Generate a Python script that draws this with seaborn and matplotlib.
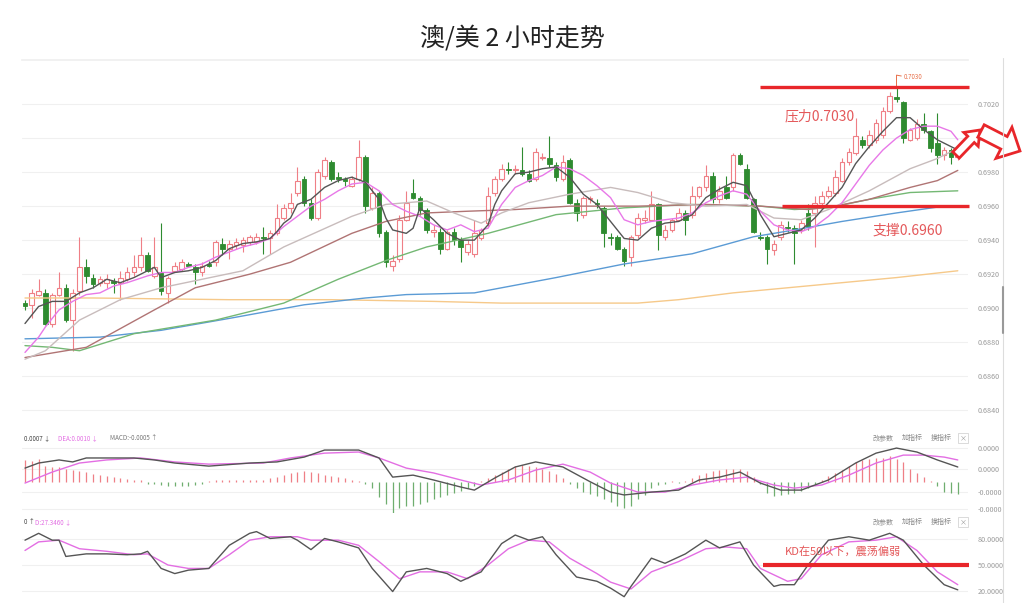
import numpy as np
import matplotlib
matplotlib.use("Agg")
import matplotlib.pyplot as plt
import matplotlib.patches as mpatches
import matplotlib.transforms as mtransforms
from matplotlib.lines import Line2D
import seaborn as sns

# ==========================
# Data (AUD/USD, 2h candles)
# ==========================
opens = [0.6903, 0.6902, 0.6908, 0.6909, 0.6891, 0.6908, 0.6912, 0.6893, 0.6910, 0.6924,
         0.6918, 0.6915, 0.6915, 0.6916, 0.6915, 0.6917, 0.6921, 0.6924, 0.6931, 0.6919,
         0.6921, 0.6909, 0.6922, 0.6923, 0.6926, 0.6924, 0.6921, 0.6926, 0.6927, 0.6938,
         0.6935, 0.6937, 0.6937, 0.6939, 0.6939, 0.6942, 0.6941, 0.6944, 0.6953, 0.6959,
         0.6968, 0.6976, 0.6962, 0.6953, 0.6978, 0.6986, 0.6977, 0.6976, 0.6972, 0.6976,
         0.6989, 0.6959, 0.6968, 0.6945, 0.6925, 0.6929, 0.6952, 0.6968, 0.6965, 0.6958,
         0.6945, 0.6945, 0.6935, 0.6945, 0.6940, 0.6933, 0.6932, 0.6941, 0.6950, 0.6968,
         0.6976, 0.6982, 0.6981, 0.6981, 0.6979, 0.6976, 0.6988, 0.6988, 0.6984, 0.6976,
         0.6987, 0.6962, 0.6955, 0.6964, 0.6962, 0.6959, 0.6942, 0.6942, 0.6935, 0.6930,
         0.6943, 0.6952, 0.6952, 0.6961, 0.6942, 0.6946, 0.6952, 0.6956, 0.6955, 0.6966,
         0.6971, 0.6978, 0.6964, 0.6971, 0.6971, 0.6990, 0.6982, 0.6964, 0.6942, 0.6942,
         0.6934, 0.6942, 0.6948, 0.6947, 0.6946, 0.6956, 0.6956, 0.6962, 0.6966, 0.6968,
         0.6975, 0.6986, 0.6991, 0.6999, 0.6996, 0.6999, 0.7002, 0.7016, 0.7024, 0.7021,
         0.6999, 0.7000, 0.7008, 0.7004, 0.6997, 0.6990, 0.6993, 0.6989]
highs = [0.6905, 0.6911, 0.6917, 0.6911, 0.6909, 0.6921, 0.6914, 0.6911, 0.6942, 0.6929,
         0.6920, 0.6919, 0.6920, 0.6918, 0.6922, 0.6924, 0.6931, 0.6942, 0.6933, 0.6942,
         0.6950, 0.6919, 0.6927, 0.6929, 0.6927, 0.6926, 0.6927, 0.6928, 0.6940, 0.6941,
         0.6940, 0.6941, 0.6942, 0.6943, 0.6944, 0.6948, 0.6946, 0.6961, 0.6961, 0.6968,
         0.6983, 0.6978, 0.6964, 0.6982, 0.6989, 0.6987, 0.6980, 0.6977, 0.6978, 0.6999,
         0.6990, 0.6971, 0.6969, 0.6946, 0.6931, 0.6955, 0.6969, 0.6976, 0.6966, 0.6959,
         0.6949, 0.6947, 0.6946, 0.6947, 0.6942, 0.6940, 0.6952, 0.6947, 0.6971, 0.6978,
         0.6985, 0.6986, 0.6984, 0.6995, 0.6981, 0.6994, 0.6991, 0.7001, 0.6986, 0.6990,
         0.6988, 0.6964, 0.6966, 0.6966, 0.6964, 0.6960, 0.6944, 0.6943, 0.6936, 0.6943,
         0.6956, 0.6958, 0.6969, 0.6962, 0.6949, 0.6953, 0.6959, 0.6958, 0.6972, 0.6972,
         0.6984, 0.6980, 0.6972, 0.6978, 0.6991, 0.6991, 0.6985, 0.6965, 0.6945, 0.6943,
         0.6940, 0.6951, 0.6951, 0.6949, 0.6952, 0.6961, 0.6966, 0.6969, 0.6972, 0.6981,
         0.6988, 0.6994, 0.7012, 0.7001, 0.7005, 0.7011, 0.7018, 0.7027, 0.7030, 0.7022,
         0.7006, 0.7011, 0.7015, 0.7005, 0.7015, 0.6995, 0.6994, 0.6993]
lows = [0.6899, 0.6894, 0.6907, 0.6890, 0.6889, 0.6907, 0.6892, 0.6875, 0.6908, 0.6915,
        0.6912, 0.6913, 0.6912, 0.6909, 0.6905, 0.6916, 0.6919, 0.6922, 0.6921, 0.6918,
        0.6908, 0.6903, 0.6921, 0.6922, 0.6924, 0.6914, 0.6919, 0.6924, 0.6925, 0.6931,
        0.6929, 0.6935, 0.6933, 0.6937, 0.6938, 0.6932, 0.6932, 0.6943, 0.6952, 0.6956,
        0.6966, 0.6960, 0.6952, 0.6952, 0.6976, 0.6975, 0.6974, 0.6972, 0.6971, 0.6975,
        0.6956, 0.6958, 0.6942, 0.6924, 0.6922, 0.6927, 0.6951, 0.6964, 0.6955, 0.6944,
        0.6942, 0.6932, 0.6934, 0.6937, 0.6927, 0.6931, 0.6930, 0.6940, 0.6948, 0.6966,
        0.6975, 0.6979, 0.6979, 0.6978, 0.6974, 0.6975, 0.6987, 0.6983, 0.6975, 0.6975,
        0.6961, 0.6951, 0.6953, 0.6962, 0.6959, 0.6936, 0.6937, 0.6934, 0.6925, 0.6925,
        0.6941, 0.6950, 0.6951, 0.6934, 0.6940, 0.6945, 0.6951, 0.6943, 0.6953, 0.6965,
        0.6969, 0.6962, 0.6962, 0.6964, 0.6969, 0.6984, 0.6964, 0.6944, 0.6940, 0.6926,
        0.6931, 0.6940, 0.6945, 0.6926, 0.6944, 0.6946, 0.6936, 0.6960, 0.6965, 0.6966,
        0.6974, 0.6984, 0.6990, 0.6994, 0.6994, 0.6997, 0.7000, 0.7015, 0.7021, 0.6997,
        0.6998, 0.6999, 0.7003, 0.6992, 0.6985, 0.6987, 0.6985, 0.6987]
closes = [0.6901, 0.6909, 0.6910, 0.6891, 0.6908, 0.6912, 0.6893, 0.6909, 0.6924, 0.6919,
          0.6914, 0.6917, 0.6917, 0.6915, 0.6918, 0.6921, 0.6924, 0.6931, 0.6922, 0.6924,
          0.6910, 0.6918, 0.6925, 0.6927, 0.6925, 0.6921, 0.6925, 0.6925, 0.6939, 0.6935,
          0.6938, 0.6939, 0.6940, 0.6942, 0.6942, 0.6941, 0.6944, 0.6953, 0.6959, 0.6962,
          0.6975, 0.6962, 0.6953, 0.6980, 0.6987, 0.6976, 0.6976, 0.6975, 0.6976, 0.6989,
          0.6960, 0.6968, 0.6944, 0.6927, 0.6928, 0.6952, 0.6962, 0.6965, 0.6958, 0.6946,
          0.6946, 0.6935, 0.6945, 0.6940, 0.6936, 0.6938, 0.6944, 0.6946, 0.6966, 0.6976,
          0.6982, 0.6981, 0.6982, 0.6979, 0.6975, 0.6992, 0.6989, 0.6985, 0.6977, 0.6986,
          0.6962, 0.6956, 0.6965, 0.6965, 0.6961, 0.6944, 0.6941, 0.6935, 0.6928, 0.6942,
          0.6953, 0.6953, 0.6961, 0.6943, 0.6946, 0.6952, 0.6956, 0.6952, 0.6966, 0.6971,
          0.6978, 0.6964, 0.6969, 0.6965, 0.6990, 0.6985, 0.6965, 0.6945, 0.6941, 0.6935,
          0.6938, 0.6949, 0.6947, 0.6944, 0.6950, 0.6948, 0.6962, 0.6966, 0.6969, 0.6977,
          0.6986, 0.6992, 0.7001, 0.6996, 0.7002, 0.7009, 0.7016, 0.7025, 0.7023, 0.7000,
          0.7005, 0.7008, 0.7005, 0.6994, 0.6990, 0.6993, 0.6989, 0.6991]

# moving averages (sampled at candle index)
ma5_idx = [0, 2, 4, 6, 8, 10, 12, 14, 16, 18, 19, 20, 22, 24, 26, 28, 30, 32, 34, 36, 37, 38, 39, 40,
           42, 44, 46, 48, 50, 52, 53, 54, 56, 57, 58, 60, 62, 64, 66, 68, 69, 70, 72, 74, 76, 78,
           80, 82, 84, 86, 88, 90, 92, 94, 96, 98, 100, 102, 104, 106, 107, 108, 110, 112, 114,
           116, 118, 120, 122, 124, 126, 128, 130, 132, 134, 136, 137]
ma5 = [0.6891, 0.6901, 0.6904, 0.6904, 0.6909, 0.6912, 0.6917, 0.6915, 0.6918, 0.6922, 0.6924,
       0.6918, 0.6921, 0.6922, 0.6924, 0.6928, 0.6935, 0.6938, 0.6939, 0.6941, 0.6945, 0.6950,
       0.6953, 0.6961, 0.6964, 0.6971, 0.6975, 0.6977, 0.6974, 0.6964, 0.6953, 0.6946, 0.6944,
       0.6947, 0.6959, 0.6952, 0.6944, 0.6940, 0.6940, 0.6949, 0.6961, 0.6969, 0.6979, 0.6980,
       0.6982, 0.6983, 0.6977, 0.6967, 0.6961, 0.6951, 0.6941, 0.6940, 0.6947, 0.6950, 0.6951,
       0.6955, 0.6965, 0.6970, 0.6974, 0.6972, 0.6964, 0.6955, 0.6942, 0.6944, 0.6946, 0.6953,
       0.6962, 0.6971, 0.6985, 0.6995, 0.7004, 0.7012, 0.7012, 0.7005, 0.6999, 0.6995, 0.6993]
ma10_idx = [0, 2, 3, 5, 7, 9, 11, 13, 15, 18, 20, 22, 24, 26, 28, 30, 32, 34, 36, 38, 40, 42, 44,
            46, 48, 50, 52, 54, 56, 58, 60, 62, 64, 66, 68, 70, 72, 74, 76, 78, 80, 82, 84, 86, 88,
            90, 92, 94, 96, 98, 100, 102, 104, 106, 108, 110, 112, 114, 116, 118, 120, 122, 124,
            126, 128, 130, 132, 134, 136, 137]
ma10 = [0.6874, 0.6883, 0.6889, 0.6899, 0.6904, 0.6908, 0.6909, 0.6913, 0.6915, 0.6919, 0.6921,
        0.6921, 0.6924, 0.6926, 0.6930, 0.6933, 0.6936, 0.6938, 0.6941, 0.6948, 0.6954, 0.6960,
        0.6964, 0.6969, 0.6973, 0.6974, 0.6969, 0.6961, 0.6957, 0.6954, 0.6949, 0.6946, 0.6949,
        0.6945, 0.6947, 0.6961, 0.6971, 0.6975, 0.6978, 0.6983, 0.6982, 0.6978, 0.6972, 0.6965,
        0.6952, 0.6949, 0.6951, 0.6952, 0.6953, 0.6956, 0.6962, 0.6966, 0.6969, 0.6967, 0.6957,
        0.6949, 0.6946, 0.6945, 0.6948, 0.6954, 0.6962, 0.6973, 0.6984, 0.6993, 0.7000, 0.7005,
        0.7007, 0.7007, 0.7004, 0.6999]
ma20_idx = [0, 3, 8, 14, 20, 26, 32, 38, 48, 53, 59, 63, 67, 70, 74, 80, 86, 90, 95, 100, 106,
            110, 114, 118, 124, 130, 134, 137]
ma20 = [0.6870, 0.6875, 0.6893, 0.6905, 0.6912, 0.6917, 0.6922, 0.6936, 0.6954, 0.6961, 0.6963,
        0.6956, 0.6950, 0.6956, 0.6962, 0.6967, 0.6971, 0.6968, 0.6962, 0.6960, 0.6961, 0.6953,
        0.6952, 0.6958, 0.6969, 0.6982, 0.6988, 0.6994]
ma30_idx = [0, 9, 19, 25, 33, 39, 48, 53, 59, 65, 72, 80, 90, 100, 108, 115, 119, 124, 130, 134, 137]
ma30 = [0.6871, 0.6877, 0.6899, 0.6912, 0.6920, 0.6927, 0.6944, 0.6951, 0.6956, 0.6957, 0.6958,
        0.6960, 0.6960, 0.6961, 0.6960, 0.6958, 0.6960, 0.6964, 0.6971, 0.6975, 0.6981]
ma60_idx = [0, 4, 8, 16, 28, 38, 46, 53, 59, 68, 78, 88, 98, 108, 113, 118, 124, 130, 137]
ma60 = [0.6878, 0.6877, 0.6875, 0.6885, 0.6893, 0.6903, 0.6917, 0.6928, 0.6936, 0.6944, 0.6955,
        0.6959, 0.6961, 0.6960, 0.6958, 0.6959, 0.6964, 0.6968, 0.6969]
ma120_idx = [0, 11, 20, 30, 41, 50, 56, 66, 78, 88, 98, 107, 113, 120, 128, 135]
ma120 = [0.6882, 0.6883, 0.6887, 0.6894, 0.6902, 0.6906, 0.6908, 0.6909, 0.6918, 0.6926, 0.6932,
         0.6942, 0.6946, 0.6951, 0.6956, 0.6960]
ma240_idx = [0, 10, 30, 45, 60, 70, 90, 96, 104, 112, 120, 128, 137]
ma240 = [0.6906, 0.6906, 0.6905, 0.6905, 0.6904, 0.6903, 0.6903, 0.6905, 0.6909, 0.6912, 0.6915,
         0.6918, 0.6922]

price_ticks = [0.7020, 0.7000, 0.6980, 0.6960, 0.6940, 0.6920, 0.6900, 0.6880, 0.6860, 0.6840]
price_labels = ["0.7020", "0.7000", "0.6980", "0.6960", "0.6940", "0.6920", "0.6900",
                "0.6880", "0.6860", "0.6840"]
resistance = 0.7030
support = 0.6960
top_price = 0.7030

# MACD (units of 0.0001)
dif_idx = [0, 2, 5, 7, 9, 16, 19, 22, 27, 33, 37, 41, 44, 49, 52, 54, 57, 60, 64, 66, 69, 72, 75,
           79, 83, 86, 88, 92, 96, 99, 102, 105, 108, 111, 114, 118, 122, 125, 128, 131, 134, 137]
dif = [6.2, 8.5, 9.9, 9.0, 10.8, 10.8, 9.9, 8.5, 7.1, 8.5, 9.0, 11.2, 14.4, 14.4, 10.8, 2.1, 3.0,
       0.8, -2.4, -3.8, 1.7, 6.7, 9.0, 6.7, 0.0, -4.7, -6.0, -4.7, -3.8, 0.8, 2.1, 4.4, -0.6, -3.8,
       -3.8, 0.8, 8.5, 13.0, 15.3, 13.5, 9.9, 6.7]
dea_idx = [0, 4, 8, 12, 17, 22, 27, 35, 39, 44, 49, 52, 56, 60, 64, 67, 71, 75, 79, 83, 86, 90, 94,
           98, 102, 106, 110, 113, 117, 121, 125, 129, 132, 135, 137]
dea = [-0.6, 4.4, 8.5, 9.9, 10.8, 9.0, 8.0, 8.5, 10.8, 13.0, 13.5, 10.8, 6.2, 4.0, 0.8, -1.5, 0.8,
       5.3, 8.0, 4.4, -0.6, -4.7, -4.7, -1.5, 0.8, 2.1, -1.5, -2.9, -1.5, 3.0, 8.5, 12.1, 12.1,
       11.2, 9.9]
macd_hist = [10, 9.5, 10.5, 7, 6.5, 6.8, 6, 5.5, 5, 4.5, 3.5, 3, 2.5, 2, 1.5, 1.2, 1, 0.8,
             -0.8, -1, -1.5, -1.8, -2, -2, -1.8, -1.5, -1,
             0.5, 0.8, 0.8, 1, 1, 0.8, 0.6, 0.8, 1,
             1.5, 2, 3, 4, 4.5, 5, 4.5, 4, 3,
             2.5, 2, 1.5, 1, 0.5,
             -1, -3, -7, -10, -14.5, -12, -11, -11, -10, -9, -8, -7, -6, -5, -4, -3, -2,
             0.5, 1.5, 3, 4.5, 6, 7, 7.5, 7, 6.5, 6, 5, 3.5, 1.5,
             -1, -3, -4.5, -5.5, -6.5, -8, -9, -11, -12, -11, -8, -6, -3, -1.5, -1,
             0.5, -0.5, 0.5, 1.5, 3, 4, 5, 5.5, 6, 6, 6, 5, 2,
             -1, -5, -6.5, -6, -5.5, -5, -4, -3, -1,
             1, 2.5, 4, 5.5, 7, 9, 10, 10.5, 11, 11, 11.5, 10.5, 9, 6, 4, 2, 0.5,
             -2, -4.5, -5, -5.5]
macd_ticks = [15.3, 5.8, -4.6, -12.4]
macd_labels = ["0.0000", "0.0000", "-0.0000", "-0.0000"]

# KD
k_idx = [0, 2, 4, 5, 6, 9, 12, 15, 17, 18, 20, 22, 24, 27, 30, 33, 34, 36, 39, 40, 42, 44, 46, 49,
         51, 54, 56, 59, 62, 64, 67, 70, 72, 74, 76, 78, 81, 84, 86, 88, 89, 92, 94, 97, 100, 102,
         105, 107, 110, 111, 113, 115, 118, 121, 124, 127, 129, 132, 135, 137]
k_vals = [79, 87, 79, 79, 60, 63, 63, 62, 63, 66, 46, 40, 44, 46, 73, 87, 89, 81, 83, 79, 68, 81,
          77, 70, 46, 19, 42, 46, 40, 31, 42, 75, 85, 79, 83, 62, 36, 31, 23, 13, 25, 58, 52, 63,
          79, 70, 77, 50, 25, 27, 27, 50, 79, 83, 79, 87, 79, 50, 27, 21]
d_idx = [0, 2, 5, 8, 12, 16, 18, 21, 24, 27, 30, 33, 36, 40, 42, 46, 49, 52, 55, 58, 62, 65, 68,
         71, 74, 77, 80, 84, 86, 89, 92, 96, 100, 103, 106, 108, 112, 114, 117, 121, 125, 128, 131,
         134, 137]
d_vals = [67, 77, 79, 69, 66, 62, 63, 50, 46, 46, 62, 79, 83, 83, 79, 79, 73, 54, 34, 42, 42, 34,
          50, 69, 79, 77, 58, 40, 30, 22, 42, 54, 69, 71, 69, 46, 31, 34, 62, 77, 79, 83, 67, 42, 27]
kd_ticks = [80, 50, 20]
kd_labels = ["80.0000", "50.0000", "20.0000"]

# ==========================
# Style
# ==========================
sns.set_theme(style="white")
plt.rcParams["font.family"] = ["Noto Sans CJK SC", "DejaVu Sans"]

BULL = "#ef7f86"
BEAR = "#2e8b30"
RED = "#e8262a"
TXT_RED = "#e4585a"
GRID = "#f0f0f0"
TICK = "#9a9a9a"
MAGENTA = "#e36ee3"


def fx(x):
    return x / 1024


def fy(y):
    return 1 - y / 603


fig = plt.figure(figsize=(10.24, 6.03), dpi=100)
fig.patch.set_facecolor("white")

L, R = 22, 968
ax = fig.add_axes([fx(L), fy(430), fx(R) - fx(L), fy(60) - fy(430)])
ax_macd = fig.add_axes([fx(L), fy(513), fx(R) - fx(L), fy(432) - fy(513)])
ax_kd = fig.add_axes([fx(L), fy(602), fx(R) - fx(L), fy(515) - fy(602)])

xlim = (-0.44, 138.5)


def style_axis(a, ticks, labels):
    a.set_xlim(*xlim)
    a.set_xticks([])
    a.yaxis.tick_right()
    a.set_yticks(ticks)
    a.set_yticklabels(labels)
    a.tick_params(axis="y", length=0, labelsize=5.2, labelcolor=TICK, pad=7)
    a.yaxis.grid(True, color=GRID, lw=0.8)
    a.set_axisbelow(True)
    for s in a.spines.values():
        s.set_visible(False)
    a.set_xlabel("")
    a.set_ylabel("")


# ==========================
# Main candle panel
# ==========================
o = np.array(opens)
h = np.array(highs)
lo = np.array(lows)
c = np.array(closes)
idx = np.arange(len(c))
up = c >= o

ax.vlines(idx[up], lo[up], h[up], color=BULL, lw=0.8, zorder=2)
ax.vlines(idx[~up], lo[~up], h[~up], color=BEAR, lw=0.8, zorder=2)
body = np.maximum(np.abs(c - o), 0.00003)
bottom = np.minimum(o, c)
ax.bar(idx[up], body[up], bottom=bottom[up], width=0.68, facecolor="white",
       edgecolor=BULL, linewidth=0.8, zorder=3)
ax.bar(idx[~up], body[~up], bottom=bottom[~up], width=0.68, color=BEAR,
       edgecolor=BEAR, linewidth=0.6, zorder=3)

ma_lines = [
    (ma240_idx, ma240, "#f6c98a", 1.0),
    (ma120_idx, ma120, "#5b9bd5", 1.0),
    (ma60_idx, ma60, "#74b874", 1.0),
    (ma30_idx, ma30, "#b07474", 1.0),
    (ma20_idx, ma20, "#c8bcbc", 1.0),
    (ma10_idx, ma10, "#e878e8", 1.0),
    (ma5_idx, ma5, "#555555", 1.0),
]
for xs, ys, col, lw in ma_lines:
    sns.lineplot(x=xs, y=ys, ax=ax, color=col, linewidth=lw, sort=False,
                 estimator=None, legend=False, zorder=4)

ax.set_ylim(0.68284, 0.70459)
style_axis(ax, price_ticks, price_labels)
ax.spines["top"].set_visible(True)
ax.spines["top"].set_color(GRID)

# support / resistance
ax.hlines(resistance, 107.9, 138.6, color=RED, lw=2.4, zorder=6, clip_on=False)
ax.hlines(support, 111.2, 138.6, color=RED, lw=2.4, zorder=6, clip_on=False)
ax.text(111.6, 0.70130, "压力0.7030", color=TXT_RED, fontsize=10, va="center", zorder=7)
ax.text(124.5, 0.69454, "支撑0.6960", color=TXT_RED, fontsize=10, va="center", zorder=7)

# highest price marker
ax.plot([128, 128, 128.7], [top_price, 0.7037, 0.70365], color="#e8704a", lw=0.7, zorder=5)
ax.text(129.0, 0.70362, "0.7030", color="#e8704a", fontsize=4.5, va="center")

# ==========================
# MACD panel
# ==========================
hist = np.array(macd_hist)
bar_cols = [BULL if v > 0 else "#6fae6f" for v in hist]
ax_macd.vlines(idx, 0, hist, colors=bar_cols, lw=0.9, zorder=2)
sns.lineplot(x=dea_idx, y=dea, ax=ax_macd, color=MAGENTA, linewidth=1.0, sort=False,
             estimator=None, legend=False, zorder=3)
sns.lineplot(x=dif_idx, y=dif, ax=ax_macd, color="#555555", linewidth=1.0, sort=False,
             estimator=None, legend=False, zorder=4)
ax_macd.set_ylim(-14.2, 22.6)
style_axis(ax_macd, macd_ticks, macd_labels)

# ==========================
# KD panel
# ==========================
sns.lineplot(x=d_idx, y=d_vals, ax=ax_kd, color=MAGENTA, linewidth=1.0, sort=False,
             estimator=None, legend=False, zorder=3)
sns.lineplot(x=k_idx, y=k_vals, ax=ax_kd, color="#555555", linewidth=1.0, sort=False,
             estimator=None, legend=False, zorder=4)
ax_kd.set_ylim(6.8, 108.4)
style_axis(ax_kd, kd_ticks, kd_labels)
ax_kd.hlines(50, 108.4, 138.6, color=RED, lw=3, zorder=6, clip_on=False)
ax_kd.text(111.6, 66.3, "KD在50以下，震荡偏弱", color=TXT_RED, fontsize=8, va="center", zorder=7)

# ==========================
# Texts around the panels
# ==========================
fig.text(0.5, fy(38), "澳/美 2 小时走势", ha="center", va="center", fontsize=18, color="#222222")

hdr = dict(fontsize=4.5, va="center")
fig.text(fx(24), fy(438), "0.0007 ↓", color="#444444", **hdr)
fig.text(fx(58), fy(438), "DEA:0.0010 ↓", color=MAGENTA, **hdr)
fig.text(fx(110), fy(438), "MACD:-0.0005 ↑", color="#777777", **hdr)
fig.text(fx(24), fy(522), "0 ↑", color="#444444", **hdr)
fig.text(fx(35), fy(522), "D:27.3460 ↓", color=MAGENTA, **hdr)

for yy in (438, 522):
    fig.text(fx(873), fy(yy), "改参数", color="#888888", fontsize=5, va="center")
    fig.text(fx(902), fy(yy), "加指标", color="#888888", fontsize=5, va="center")
    fig.text(fx(931), fy(yy), "换指标", color="#888888", fontsize=5, va="center")
    fig.text(fx(963), fy(yy), "×", color="#999999", fontsize=5, va="center", ha="center",
             bbox=dict(boxstyle="square,pad=0.15", fc="white", ec="#cccccc", lw=0.5))

# right border of the chart widget
fig.add_artist(Line2D([fx(1003), fx(1003)], [0, fy(58)], color="#dddddd", lw=0.8))
fig.add_artist(Line2D([fx(1003), fx(1003)], [fy(333), fy(287)], color="#999999", lw=1.5))

# hollow red arrows (pixel coordinates)
px = mtransforms.Affine2D().scale(1 / fig.dpi) + fig.dpi_scale_trans
arrow1 = mpatches.FancyArrow(956, 603 - 155, 24, 25, width=9, head_width=20, head_length=13,
                             length_includes_head=True, fc="white", ec=RED, lw=2, transform=px)
arrow2 = mpatches.FancyArrow(981, 603 - 131, 39, -20, width=14, head_width=35, head_length=18,
                             length_includes_head=True, fc="white", ec=RED, lw=2, transform=px)
fig.add_artist(arrow1)
fig.add_artist(arrow2)

fig.savefig("out.png", dpi=100, facecolor="white")
